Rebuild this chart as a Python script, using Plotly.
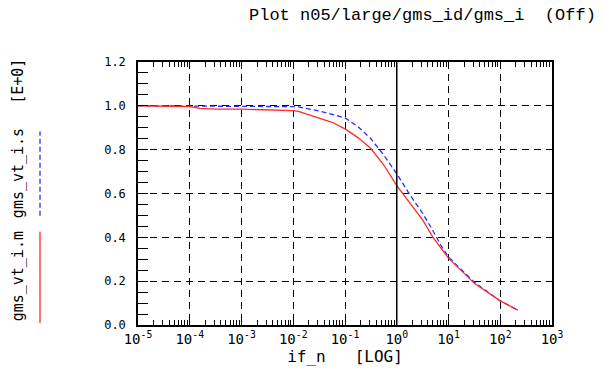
import plotly.graph_objects as go

# if_n values (x, log axis)
if_n = [1e-5, 3.16e-5, 1e-4, 1.58e-4, 3.16e-4, 1e-3, 3.16e-3, 1e-2, 1.26e-2,
        3.16e-2, 5.62e-2, 1e-1, 1.78e-1, 3.16e-1, 5.62e-1, 1.0, 1.78, 3.16,
        5.01, 7.08, 10.0, 31.6, 100.0, 219.0]
gms_vt_i_m = [1.0, 1.0, 0.997, 0.988, 0.985, 0.985, 0.983, 0.978, 0.975,
              0.945, 0.925, 0.895, 0.855, 0.805, 0.73, 0.636, 0.555, 0.48,
              0.40, 0.355, 0.305, 0.19, 0.11, 0.068]
gms_vt_i_s = [1.0, 1.0, 1.0, 0.999, 0.998, 0.998, 0.997, 0.996, 0.995,
              0.977, 0.96, 0.945, 0.905, 0.85, 0.775, 0.69, 0.595, 0.51,
              0.43, 0.365, 0.31, 0.195, 0.11, 0.068]

x_tickvals = [1e-5, 1e-4, 1e-3, 1e-2, 1e-1, 1e0, 1e1, 1e2, 1e3]
x_ticktext = ["10<sup>-5</sup>", "10<sup>-4</sup>", "10<sup>-3</sup>", "10<sup>-2</sup>",
              "10<sup>-1</sup>", "10<sup>0</sup>", "10<sup>1</sup>", "10<sup>2</sup>",
              "10<sup>3</sup>"]

FONT = "DejaVu Sans Mono"

fig = go.Figure()
fig.add_trace(go.Scatter(x=if_n, y=gms_vt_i_s, mode="lines",
                         line=dict(color="#2b2bff", width=1.3, dash="5px,3px"),
                         name="gms_vt_i.s"))
fig.add_trace(go.Scatter(x=if_n, y=gms_vt_i_m, mode="lines",
                         line=dict(color="#ff2a2a", width=1.3),
                         name="gms_vt_i.m"))

L, R, T, B = 138, 52, 62, 45
W, H = 604, 372
pw, ph = W - L - R, H - T - B

def px(xp):
    return (xp - L) / pw

def py(yp):
    return (H - B - yp) / ph

fig.update_layout(
    width=W, height=H,
    margin=dict(l=L, r=R, t=T, b=B),
    paper_bgcolor="white", plot_bgcolor="white",
    showlegend=False,
    font=dict(family=FONT, size=12, color="black"),
)

fig.update_xaxes(
    type="log", range=[-5, 3],
    tickvals=x_tickvals, ticktext=x_ticktext,
    ticks="inside", ticklen=6, tickcolor="black", tickwidth=1,
    showline=True, linecolor="black", linewidth=1.5, mirror="ticks",
    showgrid=True, gridcolor="black", griddash="7px,5px", gridwidth=1,
    minor=dict(ticks="inside", ticklen=5, tickcolor="black", dtick="D1", showgrid=False),
    tickfont=dict(family=FONT, size=14),
    title=dict(text="if_n   [LOG]", font=dict(family=FONT, size=16), standoff=2),
)
fig.update_yaxes(
    range=[0, 1.2], dtick=0.2, tickformat=".1f",
    ticks="inside", ticklen=10, tickcolor="black", tickwidth=1,
    showline=True, linecolor="black", linewidth=1.5, mirror=True,
    showgrid=True, gridcolor="black", griddash="7px,5px", gridwidth=1,
    minor=dict(ticks="inside", ticklen=10, tickcolor="black", dtick=0.05, showgrid=False),
    tickfont=dict(family=FONT, size=12),
    ticklabelstandoff=8,
    zeroline=False,
)

# solid vertical line at 10^0
fig.add_shape(type="line", xref="x", yref="y", x0=1, x1=1, y0=0, y1=1.2,
              line=dict(color="black", width=1.5))

# left side legend
fig.add_shape(type="line", xref="paper", yref="paper", x0=px(40), x1=px(40),
              y0=py(325), y1=py(233), line=dict(color="#ff2a2a", width=1.3))
fig.add_shape(type="line", xref="paper", yref="paper", x0=px(40), x1=px(40),
              y0=py(217), y1=py(132), line=dict(color="#2b2bff", width=1.3, dash="5px,3px"))
for txt, yc in [("gms_vt_i.m", 278), ("gms_vt_i.s", 174), ("[E+0]", 82)]:
    fig.add_annotation(text=txt, xref="paper", yref="paper", x=px(18), y=py(yc),
                       xanchor="center", yanchor="middle",
                       textangle=-90, showarrow=False,
                       font=dict(family=FONT, size=15, color="black"))

fig.add_annotation(text="Plot n05/large/gms_id/gms_i  (Off)", xref="paper", yref="paper",
                   x=px(422), y=py(15), showarrow=False, xanchor="center", yanchor="middle",
                   font=dict(family="Liberation Mono", size=17, color="black"))

fig.write_html("out.html")
